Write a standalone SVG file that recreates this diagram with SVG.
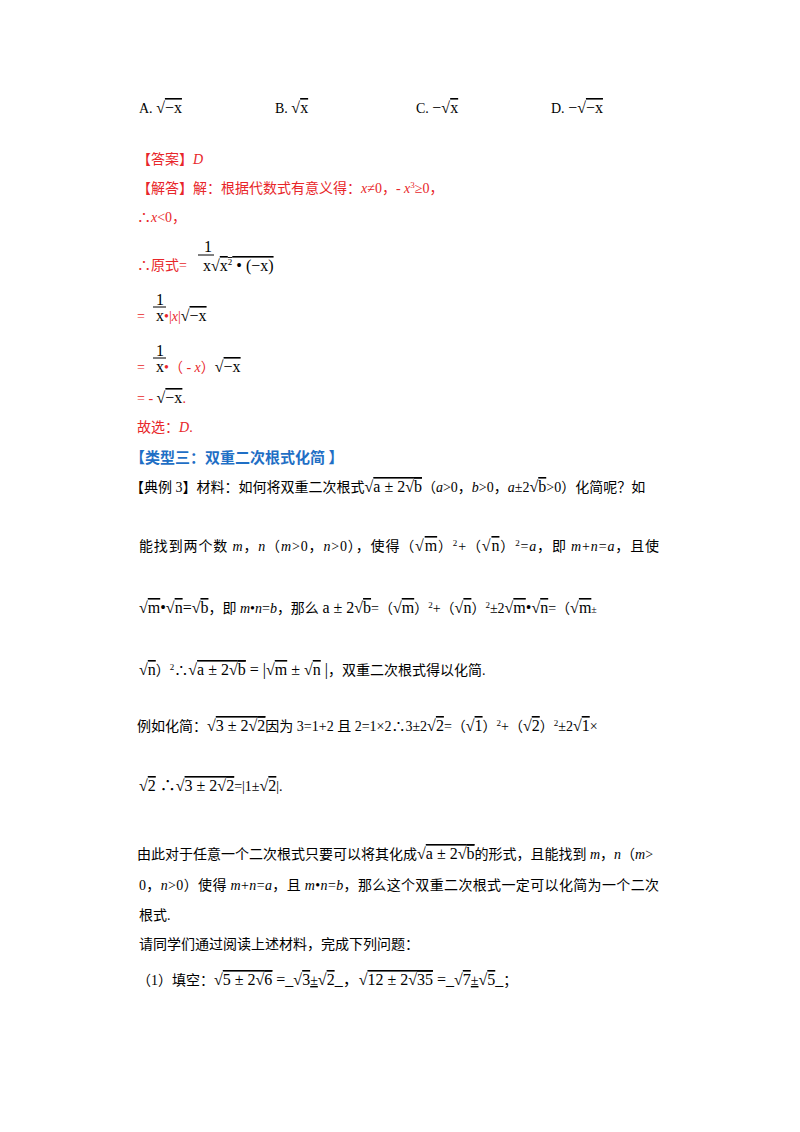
<svg xmlns="http://www.w3.org/2000/svg" width="800" height="1132" viewBox="0 0 800 1132">
<style>
text{font-family:"Liberation Serif","Noto Sans CJK SC",serif;font-size:14px;fill:#000}
.r{fill:#e8262a}
.k{fill:#000}
.b{fill:#1f6fc5;font-weight:bold;font-family:"Noto Sans CJK SC",sans-serif;font-size:15px}
.i{font-style:italic}
.m{font-size:16px}
.o{text-decoration:overline}
.s{font-size:9px}
line{stroke:#000;stroke-width:1}
</style>
<rect width="800" height="1132" fill="#fff"/>
<text x="139" y="113">A. <tspan class="m">√<tspan class="o">−x</tspan></tspan></text>
<text x="275" y="113">B. <tspan class="m">√<tspan class="o">x</tspan></tspan></text>
<text x="416" y="113">C. <tspan class="m">−√<tspan class="o">x</tspan></tspan></text>
<text x="551" y="113">D. <tspan class="m">−√<tspan class="o">−x</tspan></tspan></text>
<text class="r" x="137" y="164">【答案】<tspan class="i">D</tspan></text>
<text class="r" x="137" y="193">【解答】解：根据代数式有意义得：<tspan class="i">x</tspan>≠0，- <tspan class="i">x</tspan><tspan class="s" dy="-5">3</tspan><tspan dy="5">≥0，</tspan></text>
<text class="r" x="137" y="222">∴<tspan class="i">x</tspan>&lt;0，</text>
<text class="r" x="137" y="270">∴原式=</text>
<text class="m" x="204" y="252">1</text><line x1="198" y1="255" x2="214" y2="255"/>
<text class="m" x="203" y="271">x<tspan>√<tspan class="o">x<tspan class="s" dy="-6">2</tspan><tspan dy="6"> • (−x)</tspan></tspan></tspan></text>
<text class="r" x="137" y="321">=</text><text class="m" x="156" y="305">1</text><line x1="153" y1="307" x2="166" y2="307"/>
<text class="r" x="156" y="321"><tspan class="k m">x</tspan>•|<tspan class="i">x</tspan>|<tspan class="k m">√<tspan class="o">−x</tspan></tspan></text>
<text class="r" x="137" y="372">=</text><text class="m" x="156" y="356">1</text><line x1="153" y1="358" x2="166" y2="358"/>
<text class="r" x="156" y="372"><tspan class="k m">x</tspan>•（ - <tspan class="i">x</tspan>）<tspan class="k m">√<tspan class="o">−x</tspan></tspan></text>
<text class="r" x="137" y="403">= - <tspan class="k m">√<tspan class="o">−x</tspan></tspan>.</text>
<text class="r" x="137" y="432">故选：<tspan class="i">D</tspan>.</text>
<text class="b" x="130" y="463">【类型三：双重二次根式化简 】</text>
<text x="130" y="492">【典例 3】材料：如何将双重二次根式<tspan class="m">√<tspan class="o">a ± 2√<tspan class="o">b</tspan></tspan></tspan>（<tspan class="i">a</tspan>&gt;0，<tspan class="i">b</tspan>&gt;0，<tspan class="i">a</tspan>±2<tspan class="m">√<tspan class="o">b</tspan></tspan>&gt;0）化简呢？如</text>
<text x="139" y="551" textLength="520" lengthAdjust="spacing">能找到两个数 <tspan class="i">m</tspan>，<tspan class="i">n</tspan>（<tspan class="i">m</tspan>&gt;0，<tspan class="i">n</tspan>&gt;0），使得（<tspan class="m">√<tspan class="o">m</tspan></tspan>）<tspan class="s" dy="-5">2</tspan><tspan dy="5">+（</tspan><tspan class="m">√<tspan class="o">n</tspan></tspan>）<tspan class="s" dy="-5">2</tspan><tspan dy="5">=<tspan class="i">a</tspan>，即 <tspan class="i">m</tspan>+<tspan class="i">n</tspan>=<tspan class="i">a</tspan>，且使</tspan></text>
<text x="139" y="613"><tspan class="m">√<tspan class="o">m</tspan>•√<tspan class="o">n</tspan>=√<tspan class="o">b</tspan></tspan>，即 <tspan class="i">m</tspan>•<tspan class="i">n</tspan>=<tspan class="i">b</tspan>，那么 <tspan class="m">a ± 2√<tspan class="o">b</tspan></tspan>=（<tspan class="m">√<tspan class="o">m</tspan></tspan>）<tspan class="s" dy="-5">2</tspan><tspan dy="5">+（</tspan><tspan class="m">√<tspan class="o">n</tspan></tspan>）<tspan class="s" dy="-5">2</tspan><tspan dy="5">±2</tspan><tspan class="m">√<tspan class="o">m</tspan>•√<tspan class="o">n</tspan></tspan>=（<tspan class="m">√<tspan class="o">m</tspan></tspan><tspan font-size="10">±</tspan></text>
<text x="139" y="675"><tspan class="m">√<tspan class="o">n</tspan></tspan>）<tspan class="s" dy="-5">2</tspan><tspan dy="5">∴</tspan><tspan class="m">√<tspan class="o">a ± 2√<tspan class="o">b</tspan></tspan> = |√<tspan class="o">m</tspan> ± √<tspan class="o">n</tspan> |</tspan>，双重二次根式得以化简.</text>
<text x="137" y="731">例如化简：<tspan class="m">√<tspan class="o">3 ± 2√<tspan class="o">2</tspan></tspan></tspan>因为 3=1+2 且 2=1×2∴3±2<tspan class="m">√<tspan class="o">2</tspan></tspan>=（<tspan class="m">√<tspan class="o">1</tspan></tspan>）<tspan class="s" dy="-5">2</tspan><tspan dy="5">+（</tspan><tspan class="m">√<tspan class="o">2</tspan></tspan>）<tspan class="s" dy="-5">2</tspan><tspan dy="5">±2</tspan><tspan class="m">√<tspan class="o">1</tspan></tspan>×</text>
<text x="139" y="791"><tspan class="m">√<tspan class="o">2</tspan> ∴√<tspan class="o">3 ± 2√<tspan class="o">2</tspan></tspan></tspan>=|1±<tspan class="m">√<tspan class="o">2</tspan></tspan>|.</text>
<text x="137" y="859">由此对于任意一个二次根式只要可以将其化成<tspan class="m">√<tspan class="o">a ± 2√<tspan class="o">b</tspan></tspan></tspan>的形式，且能找到 <tspan class="i">m</tspan>，<tspan class="i">n</tspan>（<tspan class="i">m</tspan>&gt;</text>
<text x="139" y="890" textLength="520" lengthAdjust="spacing">0，<tspan class="i">n</tspan>&gt;0）使得 <tspan class="i">m</tspan>+<tspan class="i">n</tspan>=<tspan class="i">a</tspan>，且 <tspan class="i">m</tspan>•<tspan class="i">n</tspan>=<tspan class="i">b</tspan>，那么这个双重二次根式一定可以化简为一个二次</text>
<text x="139" y="920">根式.</text>
<text x="139" y="949">请同学们通过阅读上述材料，完成下列问题：</text>
<text x="137" y="985">（1）填空：<tspan class="m">√<tspan class="o">5 ± 2√<tspan class="o">6</tspan></tspan> =_√<tspan class="o">3</tspan></tspan><tspan text-decoration="underline">±</tspan><tspan class="m">√<tspan class="o">2</tspan>_，√<tspan class="o">12 ± 2√<tspan class="o">35</tspan></tspan> =_√<tspan class="o">7</tspan></tspan><tspan text-decoration="underline">±</tspan><tspan class="m">√<tspan class="o">5</tspan>_</tspan>；</text>
</svg>
